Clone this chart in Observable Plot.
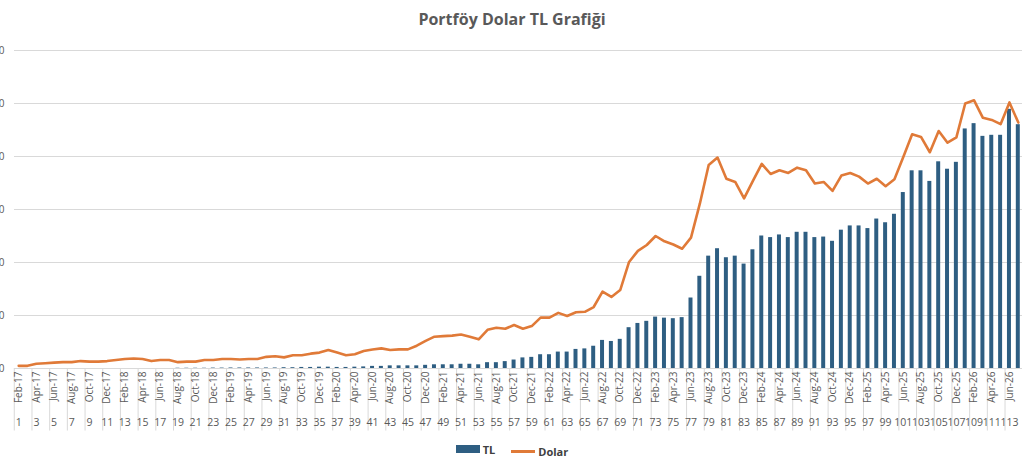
<!DOCTYPE html>
<html><head><meta charset="utf-8">
<script src="https://cdn.jsdelivr.net/npm/d3@7"></script>
<script src="https://cdn.jsdelivr.net/npm/@observablehq/plot@0.6"></script>
<style>
body{margin:0;background:#fff;font-family:"Open Sans",Lato,sans-serif;}
#wrap{position:relative;width:1024px;height:466px;overflow:hidden;}
#title{position:absolute;top:8px;left:0;width:1024px;text-align:center;font:bold 16px "Open Sans",sans-serif;color:#595959;}
#legend{position:absolute;top:441px;left:0;width:1024px;text-align:center;font:bold 11px "Open Sans",sans-serif;color:#404040;}
#legend span{display:inline-flex;align-items:center;margin:0 8px;}
svg{overflow:hidden;}
</style></head><body>
<div id="wrap">
<div id="title">Portföy Dolar TL Grafiği</div>
<div id="chart"></div>
<div id="legend"><span><i style="display:inline-block;width:24px;height:8px;background:#2e5e82;margin-right:3px"></i>TL</span><span><i style="display:inline-block;width:24px;height:3px;background:#e07a38;margin-right:3px"></i>Dolar</span></div>
</div>
<script>
const monthNames = ["Jan","Feb","Mar","Apr","May","Jun","Jul","Aug","Sep","Oct","Nov","Dec"];
const categories = d3.range(1, 115);
const monthLabels = categories.map(i => { const m = i; const mi = m % 12; const y = 17 + Math.floor(m / 12); return monthNames[mi] + "-" + y; });
const tl = [0,0,0,0,0,0,0,0,0,0, 0,0,0,0,0,0,0,0,0.005,0.005, 0.005,0.005,0.008,0.008,0.01,0.01,0.01,0.01,0.01,0.01,
 0.015,0.015,0.02,0.02,0.025,0.025,0.02,0.02,0.025,0.03, 0.04,0.04,0.05,0.05,0.05,0.05,0.06,0.07,0.07,0.07,
 0.08,0.08,0.07,0.11,0.11,0.13,0.16,0.2,0.21,0.26, 0.26,0.31,0.31,0.36,0.37,0.42,0.53,0.51,0.55,0.77,
 0.85,0.89,0.97,0.95,0.94,0.96,1.33,1.74,2.12,2.26, 2.09,2.12,1.97,2.24,2.5,2.47,2.52,2.47,2.57,2.57,
 2.47,2.48,2.4,2.61,2.69,2.69,2.64,2.82,2.75,2.91, 3.32,3.73,3.73,3.53,3.9,3.76,3.89,4.52,4.62,4.38,
 4.4,4.4,4.89,4.6].map(v => v * 100);
const dolar = [0.05,0.05,0.09,0.1,0.11,0.12,0.12,0.14,0.13,0.13, 0.14,0.16,0.18,0.19,0.18,0.14,0.16,0.16,0.12,0.13,
 0.13,0.16,0.16,0.18,0.18,0.17,0.18,0.18,0.22,0.23, 0.21,0.25,0.25,0.28,0.3,0.35,0.3,0.25,0.27,0.33,
 0.36,0.38,0.35,0.36,0.36,0.43,0.52,0.6,0.61,0.62, 0.64,0.6,0.55,0.73,0.77,0.75,0.82,0.75,0.8,0.96,
 0.96,1.05,0.99,1.06,1.07,1.16,1.45,1.35,1.48,2.01, 2.22,2.33,2.5,2.4,2.34,2.26,2.47,3.11,3.84,3.98,
 3.58,3.52,3.21,3.54,3.86,3.67,3.74,3.69,3.79,3.74, 3.49,3.52,3.35,3.64,3.69,3.62,3.49,3.58,3.44,3.57,
 3.99,4.42,4.37,4.08,4.48,4.26,4.36,5.0,5.06,4.73, 4.69,4.61,5.02,4.64].map(v => v * 100);
const yTicks = [0,100,200,300,400,500,600];

const data = categories.map((c, i) => ({c, tl: tl[i], dolar: dolar[i]}));
const odd = categories.filter(c => c % 2 === 1);
const bw = 1008 / 114;
const chart = Plot.plot({
  width: 1024, height: 466,
  marginLeft: 14, marginRight: 2, marginTop: 50, marginBottom: 98,
  style: {fontFamily: "'Open Sans', sans-serif", fontSize: "10px", color: "#595959", overflow: "hidden"},
  x: {type: "band", domain: categories, padding: 0.55, paddingOuter: 0.25, align: 0.5},
  y: {domain: [0, 600]},
  marks: [
    Plot.ruleY(yTicks, {stroke: "#d9d9d9", strokeWidth: 1}),
    Plot.ruleX(odd, {x: d => d, dx: -bw / 2, y1: 0, y2: -118, stroke: "#d9d9d9"}),
    Plot.barY(data, {x: "c", y: "tl", fill: "#2e5e82"}),
    Plot.line(data, {x: "c", y: "dolar", stroke: "#e07a38", strokeWidth: 2.6}),
    Plot.axisY({ticks: yTicks, tickSize: 0, tickPadding: 10, fill: "#595959", label: null}),
    Plot.axisX({ticks: odd, tickSize: 0, tickPadding: 3, tickRotate: -90, tickFormat: d => monthLabels[d - 1], label: null, fill: "#595959"}),
    Plot.axisX({ticks: odd, tickSize: 0, tickPadding: 50, tickFormat: d => String(d), label: null, fill: "#595959", fontSize: 10.5})
  ]
});
document.getElementById("chart").appendChild(chart);
</script>
</body></html>
